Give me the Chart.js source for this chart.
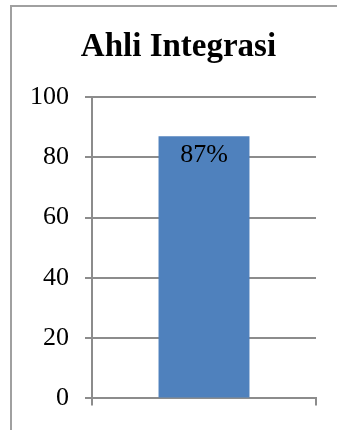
<!DOCTYPE html>
<html>
<head>
<meta charset="utf-8">
<script src="https://cdn.jsdelivr.net/npm/chart.js@4/dist/chart.umd.min.js"></script>
<style>
  html, body { margin: 0; padding: 0; background: #fff; }
  #wrap { position: relative; width: 337px; height: 430px; overflow: hidden; }
  #frame { position: absolute; left: 10px; top: 5px; width: 400px; height: 500px;
           border-left: 2px solid #a0a0a0; border-top: 2px solid #a0a0a0; }
  canvas { position: absolute; left: 0; top: 0; }
</style>
</head>
<body>
<div id="wrap">
  <div id="frame"></div>
  <canvas id="chart" width="337" height="430"></canvas>
</div>
<script>
const categories = [""]
const values = [87]
const valueLabels = ["87%"]
const yTicks = [0, 20, 40, 60, 80, 100]
const chartTitle = "Ahli Integrasi"

const gridGray = "#8c8c8c"
const serif = "'Liberation Serif', 'DejaVu Serif', serif"

// label inside the bar, near its top
const barLabels = {
    id: "barLabels",
    afterDatasetsDraw(chart) {
        const ctx = chart.ctx
        const meta = chart.getDatasetMeta(0)
        ctx.save()
        ctx.font = "26px " + serif
        ctx.fillStyle = "#000"
        ctx.textAlign = "center"
        ctx.textBaseline = "alphabetic"
        meta.data.forEach((bar, i) => {
            ctx.fillText(valueLabels[i], bar.x, bar.y + 26)
        })
        ctx.restore()
    }
}

// title sits a bit right of the canvas centre, like the original
const titlePlugin = {
    id: "offsetTitle",
    afterDraw(chart) {
        const ctx = chart.ctx
        ctx.save()
        ctx.font = "bold 33px " + serif
        ctx.fillStyle = "#000"
        ctx.textAlign = "center"
        ctx.textBaseline = "alphabetic"
        ctx.fillText(chartTitle, chart.width / 2 + 10, 56)
        ctx.restore()
    }
}

new Chart(document.getElementById("chart"), {
    type: "bar",
    data: {
        labels: categories,
        datasets: [{
            data: values,
            backgroundColor: "#4f81bd",
            borderWidth: 0,
            barPercentage: 0.406,
            categoryPercentage: 1
        }]
    },
    options: {
        responsive: false,
        animation: false,
        layout: { padding: { left: 25, right: 21, top: 97, bottom: 22 } },
        plugins: {
            legend: { display: false },
            tooltip: { enabled: false },
            title: { display: false }
        },
        scales: {
            x: {
                ticks: { display: false },
                grid: { drawOnChartArea: false, drawTicks: true, tickLength: 7, color: gridGray, lineWidth: 2 },
                border: { color: gridGray, width: 2 }
            },
            y: {
                min: 0,
                max: 100,
                afterBuildTicks: s => { s.ticks = yTicks.map(v => ({ value: v })) },
                afterFit: s => { s.width = 67 },
                ticks: { color: "#000", font: { family: serif, size: 26 }, padding: 16 },
                grid: { color: gridGray, lineWidth: 2, tickLength: 7 },
                border: { color: gridGray, width: 2 }
            }
        }
    },
    plugins: [barLabels, titlePlugin]
})
</script>
</body>
</html>
